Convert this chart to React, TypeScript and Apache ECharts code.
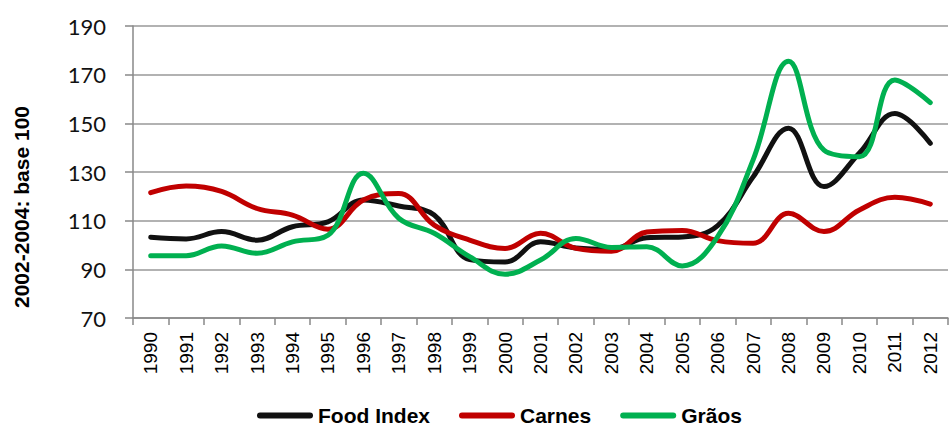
import React, { useEffect, useRef } from "react";
import * as echarts from "echarts";

const years = ["1990","1991","1992","1993","1994","1995","1996","1997","1998","1999","2000","2001","2002","2003","2004","2005","2006","2007","2008","2009","2010","2011","2012"];
const foodIndex = [103.2, 102.5, 105.5, 102, 107.5, 109.5, 118.5, 116, 112.3, 94, 93, 101.3, 98.8, 98.3, 103, 103.3, 108, 128, 148, 124, 137.8, 154, 141.8];
const carnes = [121.5, 124.2, 122, 115, 112.3, 106.5, 118.5, 121.2, 108.2, 102, 98.6, 104.8, 98.6, 97.4, 105.3, 106, 101.8, 100.7, 113, 105.5, 114.4, 119.6, 116.8];
const graos = [95.6, 95.6, 99.6, 96.6, 101.3, 104, 129.5, 111, 104.8, 95.2, 88, 93.8, 102.7, 99, 99.3, 91.4, 103.4, 135, 175.5, 139, 136.3, 167.8, 158.5];
const yTicks = { min: 70, max: 190, interval: 20 };
const axisTitle = "2002-2004: base 100";

export default function App() {
  const ref = useRef<HTMLDivElement>(null);
  useEffect(() => {
    document.body.style.margin = "0";
    const chart = echarts.init(ref.current!, null, { renderer: "svg" });
    const mk = (name: string, data: number[], color: string) => ({
      name,
      type: "line",
      data,
      smooth: 0.4,
      symbol: "none",
      lineStyle: { color, width: 5, cap: "round" },
      itemStyle: { color },
    });
    const icon = "path://M3,0 L53,0 A3,3 0 0 1 53,6 L3,6 A3,3 0 0 1 3,0 Z";
    chart.setOption({
      animation: false,
      textStyle: { fontFamily: "Liberation Sans, Arial, sans-serif" },
      grid: { left: 133, right: 2, top: 26, bottom: 109 },
      legend: {
        top: 405,
        left: 257,
        padding: 0,
        itemWidth: 56,
        itemHeight: 6,
        itemGap: 29,
        icon,
        textStyle: { fontSize: 21, fontWeight: "bold", color: "#000", fontFamily: "Liberation Sans, Arial, sans-serif" },
        data: ["Food Index", "Carnes", "Grãos"],
      },
      graphic: [
        {
          type: "text",
          x: 21.5,
          y: 207,
          rotation: Math.PI / 2,
          style: {
            text: axisTitle,
            fontSize: 21,
            fontWeight: "bold",
            fill: "#000",
            align: "center",
            verticalAlign: "middle",
            fontFamily: "Liberation Sans, Arial, sans-serif",
          },
        },
      ],
      xAxis: {
        type: "category",
        data: years,
        boundaryGap: true,
        axisLine: { lineStyle: { color: "#888", width: 1.5 } },
        axisTick: { show: true, length: 7, lineStyle: { color: "#888", width: 1.5 } },
        axisLabel: { rotate: 90, fontSize: 19, color: "#000", margin: 14, interval: 0, fontFamily: "Liberation Sans, Arial, sans-serif" },
      },
      yAxis: {
        type: "value",
        min: yTicks.min,
        max: yTicks.max,
        interval: yTicks.interval,
        axisLine: { show: true, lineStyle: { color: "#888", width: 1.5 } },
        axisTick: { show: true, length: 8, lineStyle: { color: "#888", width: 1.5 } },
        axisLabel: { fontSize: 22, color: "#111", margin: 27, fontFamily: "Lato, Open Sans, sans-serif" },
        splitLine: { lineStyle: { color: "#999", width: 1.5 } },
      },
      series: [
        mk("Food Index", foodIndex, "#111111"),
        mk("Carnes", carnes, "#C00000"),
        mk("Grãos", graos, "#00B050"),
      ],
    });
    return () => chart.dispose();
  }, []);
  return <div ref={ref} style={{ position: "absolute", left: 0, top: 0, width: 950, height: 427 }} />;
}
